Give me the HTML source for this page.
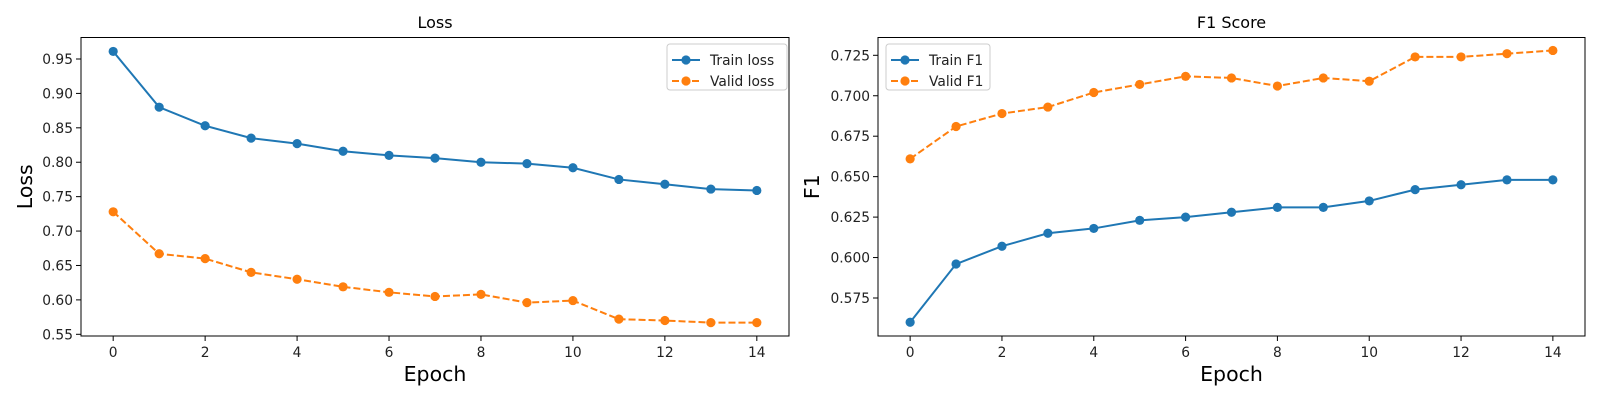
<!DOCTYPE html>
<html><head><meta charset="utf-8"><style>
html,body{margin:0;padding:0;background:#fff;}
svg{display:block;font-family:"DejaVu Sans","Liberation Sans",sans-serif;}
</style></head><body>
<svg id="fig" width="1600" height="400" viewBox="0 0 1600 400"></svg>
<script>
const epochs = [0,1,2,3,4,5,6,7,8,9,10,11,12,13,14];
const trainLoss = [0.961,0.880,0.853,0.835,0.827,0.816,0.810,0.806,0.800,0.798,0.792,0.775,0.768,0.761,0.759];
const validLoss = [0.728,0.667,0.660,0.640,0.630,0.619,0.611,0.605,0.608,0.596,0.599,0.572,0.570,0.567,0.567];
const trainF1 = [0.560,0.596,0.607,0.615,0.618,0.623,0.625,0.628,0.631,0.631,0.635,0.642,0.645,0.648,0.648];
const validF1 = [0.661,0.681,0.689,0.693,0.702,0.707,0.712,0.711,0.706,0.711,0.709,0.724,0.724,0.726,0.728];
const xTicks = [0,2,4,6,8,10,12,14];
const lossTicks = [0.55,0.60,0.65,0.70,0.75,0.80,0.85,0.90,0.95];
const f1Ticks = [0.575,0.600,0.625,0.650,0.675,0.700,0.725];

const NS="http://www.w3.org/2000/svg";
const svg=document.getElementById('fig');
function mk(tag,attrs,parent){const e=document.createElementNS(NS,tag);for(const k in attrs)e.setAttribute(k,attrs[k]);(parent||svg).appendChild(e);return e;}

function panel(opt){
  const g=mk('g',{});
  
  
  const L=opt.left,R=opt.right,T=37.5,B=336;
  const xmin=-0.7,xmax=14.7;
  const sx=v=>L+(v-xmin)/(xmax-xmin)*(R-L);
  const sy=v=>opt.y0px+(v-opt.y0)*(opt.y1px-opt.y0px)/(opt.y1-opt.y0);
  xTicks.forEach(t=>{
    const x=sx(t);
    const tk=mk('line',{x1:x,x2:x,y1:B,y2:B+5,stroke:'#000','stroke-width':1},g);
    
    
    const tx=mk('text',{x:x,y:B+21,'text-anchor':'middle','font-size':13.8,fill:'#222'},g);
    tx.textContent=String(t);
    
    
  });
  opt.ticks.forEach(t=>{
    const y=sy(t);
    const tk=mk('line',{x1:L-5,x2:L,y1:y,y2:y,stroke:'#000','stroke-width':1},g);
    
    
    const tx=mk('text',{x:L-8,y:y+5,'text-anchor':'end','font-size':13.8,fill:'#222'},g);
    tx.textContent=t.toFixed(opt.dec);
    
    
  });
  opt.series.forEach(s=>{
    const pts=epochs.map((e,i)=>sx(e)+','+sy(s.vals[i])).join(' ');
    const pl=mk('polyline',{points:pts,fill:'none',stroke:s.color,'stroke-width':2,'stroke-dasharray':s.dash||'none'},g);
    
    
    epochs.forEach((e,i)=>{
      const c=mk('circle',{cx:sx(e),cy:sy(s.vals[i]),r:4.6,fill:s.color},g);
      
      
    });
  });
  const fr=mk('rect',{x:L,y:T,width:R-L,height:B-T,fill:'none',stroke:'#000','stroke-width':1},g);
  
  
  const ti=mk('text',{x:(L+R)/2,y:28,'text-anchor':'middle','font-size':16,fill:'#000'},g);
  ti.textContent=opt.title;
  
  
  const xl=mk('text',{x:(L+R)/2,y:381,'text-anchor':'middle','font-size':20.5,fill:'#000'},g);
  xl.textContent='Epoch';
  
  
  const yl=mk('text',{x:opt.ylabX,y:(T+B)/2,'text-anchor':'middle','font-size':20.5,fill:'#000',transform:`rotate(-90 ${opt.ylabX} ${(T+B)/2})`},g);
  yl.textContent=opt.ylabel;
  
  
  const lg=mk('g',{},g);
  
  
  mk('rect',{x:opt.legX,y:44,width:opt.legW,height:46,rx:3,fill:'#fff','fill-opacity':0.8,stroke:'#ccc','stroke-width':1},lg);
  opt.series.forEach((s,i)=>{
    const y=65+i*21-5;
    const ln=mk('line',{x1:opt.legX+5,x2:opt.legX+33,y1:y,y2:y,stroke:s.color,'stroke-width':2,'stroke-dasharray':s.dash||'none'},lg);
    
    
    mk('circle',{cx:opt.legX+19,cy:y,r:4.6,fill:s.color},lg);
    const t=mk('text',{x:opt.legX+43,y:y+5,'font-size':13.8,fill:'#222'},lg);
    t.textContent=s.label;
    
    
  });
}

panel({name:'loss-chart',left:81,right:789,y0:0.95,y0px:59,y1:0.55,y1px:334.3,ticks:lossTicks,dec:2,
  title:'Loss',ylabel:'Loss',ylabX:32,legX:667,legW:120,
  series:[{name:'train-loss',label:'Train loss',vals:trainLoss,color:'#1f77b4'},
          {name:'valid-loss',label:'Valid loss',vals:validLoss,color:'#ff7f0e',dash:'7,3'}]});
panel({name:'f1-chart',left:878,right:1585,y0:0.725,y0px:55.3,y1:0.575,y1px:298,ticks:f1Ticks,dec:3,
  title:'F1 Score',ylabel:'F1',ylabX:819,legX:886,legW:104,
  series:[{name:'train-f1',label:'Train F1',vals:trainF1,color:'#1f77b4'},
          {name:'valid-f1',label:'Valid F1',vals:validF1,color:'#ff7f0e',dash:'7,3'}]});
</script>
</body></html>
